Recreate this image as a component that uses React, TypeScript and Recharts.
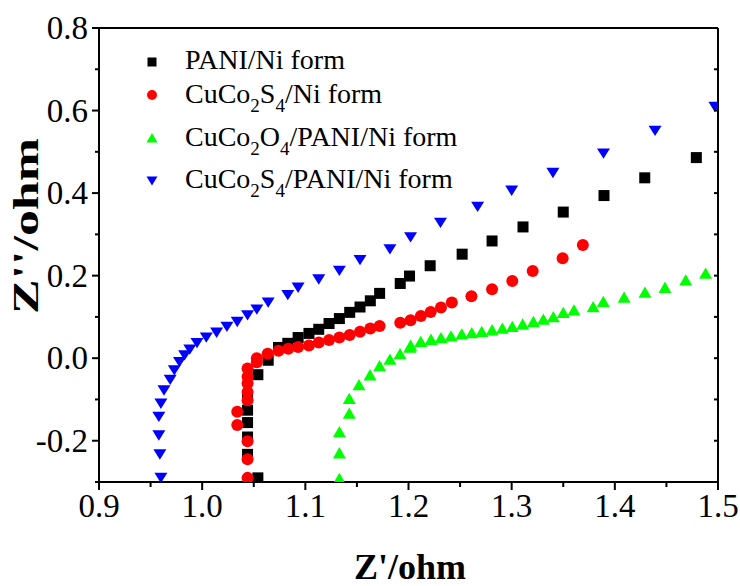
import React from 'react';
import { ScatterChart, Scatter, XAxis, YAxis, Legend } from 'recharts';

const paniNiForm = [
  { x: 1.054, y: -0.29 }, { x: 1.044, y: -0.233 }, { x: 1.044, y: -0.191 }, { x: 1.044, y: -0.156 },
  { x: 1.044, y: -0.126 }, { x: 1.044, y: -0.09 }, { x: 1.054, y: -0.04 }, { x: 1.064, y: -0.005 },
  { x: 1.074, y: 0.026 }, { x: 1.083, y: 0.036 }, { x: 1.093, y: 0.05 }, { x: 1.1035, y: 0.06 },
  { x: 1.113, y: 0.07 }, { x: 1.123, y: 0.084 }, { x: 1.133, y: 0.096 }, { x: 1.143, y: 0.111 },
  { x: 1.153, y: 0.124 }, { x: 1.163, y: 0.139 }, { x: 1.172, y: 0.157 }, { x: 1.192, y: 0.181 },
  { x: 1.201, y: 0.199 }, { x: 1.221, y: 0.224 }, { x: 1.252, y: 0.252 }, { x: 1.281, y: 0.284 },
  { x: 1.311, y: 0.318 }, { x: 1.35, y: 0.354 }, { x: 1.3895, y: 0.394 }, { x: 1.429, y: 0.437 },
  { x: 1.479, y: 0.486 },
];

const cuCo2S4NiForm = [
  { x: 1.044, y: -0.29 }, { x: 1.044, y: -0.245 }, { x: 1.044, y: -0.201 }, { x: 1.034, y: -0.162 },
  { x: 1.034, y: -0.13 }, { x: 1.044, y: -0.102 }, { x: 1.044, y: -0.082 }, { x: 1.044, y: -0.061 },
  { x: 1.044, y: -0.045 }, { x: 1.044, y: -0.025 }, { x: 1.053, y: -0.01 }, { x: 1.053, y: 0.0 },
  { x: 1.0635, y: 0.011 }, { x: 1.074, y: 0.018 }, { x: 1.0835, y: 0.023 }, { x: 1.093, y: 0.027 },
  { x: 1.1035, y: 0.031 }, { x: 1.113, y: 0.038 }, { x: 1.123, y: 0.044 }, { x: 1.133, y: 0.05 },
  { x: 1.143, y: 0.056 }, { x: 1.153, y: 0.064 }, { x: 1.163, y: 0.072 }, { x: 1.172, y: 0.078 },
  { x: 1.192, y: 0.086 }, { x: 1.202, y: 0.092 }, { x: 1.212, y: 0.102 }, { x: 1.2215, y: 0.112 },
  { x: 1.2315, y: 0.123 }, { x: 1.242, y: 0.135 }, { x: 1.261, y: 0.15 }, { x: 1.281, y: 0.167 },
  { x: 1.3006, y: 0.187 }, { x: 1.3204, y: 0.211 }, { x: 1.3494, y: 0.242 }, { x: 1.369, y: 0.274 },
];

const cuCo2O4PaniNiForm = [
  { x: 1.133, y: -0.292 }, { x: 1.133, y: -0.23 }, { x: 1.133, y: -0.179 }, { x: 1.1426, y: -0.134 },
  { x: 1.1426, y: -0.098 }, { x: 1.152, y: -0.065 }, { x: 1.1627, y: -0.041 }, { x: 1.172, y: -0.019 },
  { x: 1.182, y: -0.003 }, { x: 1.1918, y: 0.01 }, { x: 1.2014, y: 0.026 }, { x: 1.2021, y: 0.031 },
  { x: 1.2118, y: 0.04 }, { x: 1.2218, y: 0.045 }, { x: 1.2315, y: 0.049 }, { x: 1.2412, y: 0.053 },
  { x: 1.2516, y: 0.058 }, { x: 1.2613, y: 0.061 }, { x: 1.271, y: 0.064 }, { x: 1.281, y: 0.068 },
  { x: 1.291, y: 0.072 }, { x: 1.3006, y: 0.076 }, { x: 1.3107, y: 0.082 }, { x: 1.321, y: 0.088 },
  { x: 1.3307, y: 0.094 }, { x: 1.3404, y: 0.1 }, { x: 1.35, y: 0.11 }, { x: 1.3604, y: 0.116 },
  { x: 1.379, y: 0.124 }, { x: 1.3888, y: 0.137 }, { x: 1.409, y: 0.147 }, { x: 1.4292, y: 0.159 },
  { x: 1.4486, y: 0.171 }, { x: 1.4687, y: 0.189 }, { x: 1.488, y: 0.205 },
];

const cuCo2S4PaniNiForm = [
  { x: 0.96, y: -0.29 }, { x: 0.959, y: -0.233 }, { x: 0.958, y: -0.187 }, { x: 0.958, y: -0.142 },
  { x: 0.96, y: -0.11 }, { x: 0.963, y: -0.078 }, { x: 0.969, y: -0.052 }, { x: 0.973, y: -0.029 },
  { x: 0.978, y: -0.009 }, { x: 0.983, y: 0.007 }, { x: 0.988, y: 0.021 }, { x: 0.995, y: 0.037 },
  { x: 1.004, y: 0.05 }, { x: 1.014, y: 0.062 }, { x: 1.024, y: 0.076 }, { x: 1.034, y: 0.088 },
  { x: 1.044, y: 0.104 }, { x: 1.053, y: 0.118 }, { x: 1.064, y: 0.135 }, { x: 1.083, y: 0.153 },
  { x: 1.093, y: 0.171 }, { x: 1.113, y: 0.191 }, { x: 1.133, y: 0.212 }, { x: 1.153, y: 0.238 },
  { x: 1.182, y: 0.264 }, { x: 1.202, y: 0.293 }, { x: 1.231, y: 0.328 }, { x: 1.267, y: 0.367 },
  { x: 1.3, y: 0.406 }, { x: 1.34, y: 0.449 }, { x: 1.389, y: 0.496 }, { x: 1.439, y: 0.551 },
  { x: 1.497, y: 0.609 },
];

const xTicks = [0.9, 0.95, 1.0, 1.05, 1.1, 1.15, 1.2, 1.25, 1.3, 1.35, 1.4, 1.45, 1.5];
const yTicks = [-0.3, -0.2, -0.1, 0.0, 0.1, 0.2, 0.3, 0.4, 0.5, 0.6, 0.7, 0.8];

const seriesNames = ['PANI/Ni form', 'CuCo2S4/Ni form', 'CuCo2O4/PANI/Ni form', 'CuCo2S4/PANI/Ni form'];

const FONT = '"Liberation Serif", "Times New Roman", serif';

const Square = (p: any) => <rect x={p.cx - 5.5} y={p.cy - 5.5} width={11} height={11} fill="#000000" />;
const Dot = (p: any) => <circle cx={p.cx} cy={p.cy} r={6} fill="#ff0000" />;
const TriUp = (p: any) => (
  <polygon points={`${p.cx},${p.cy - 6} ${p.cx - 6.5},${p.cy + 5.3} ${p.cx + 6.5},${p.cy + 5.3}`} fill="#00ff00" />
);
const TriDown = (p: any) => (
  <polygon points={`${p.cx - 6.5},${p.cy - 5} ${p.cx + 6.5},${p.cy - 5} ${p.cx},${p.cy + 5.3}`} fill="#0000ff" />
);

const isMajorX = (v: number) => Math.round(v * 100) % 10 === 0;
const isMajorY = (v: number) => Math.round(v * 10) % 2 === 0;

const BottomTick = (props: any) => {
  const { x, y, payload } = props;
  const major = isMajorX(payload.value);
  return (
    <g>
      <line x1={x} y1={y} x2={x} y2={y + (major ? 8 : 5)} stroke="#000" strokeWidth={2} />
      {major && (
        <text x={x} y={y + 35} textAnchor="middle" fontFamily={FONT} fontSize={33} fill="#000">
          {payload.value.toFixed(1)}
        </text>
      )}
    </g>
  );
};

const LeftTick = (props: any) => {
  const { x, y, payload } = props;
  const major = isMajorY(payload.value);
  return (
    <g>
      <line x1={x - (major ? 7 : 4)} y1={y} x2={x} y2={y} stroke="#000" strokeWidth={2} />
      {major && (
        <text x={x - 11} y={y + 11} textAnchor="end" fontFamily={FONT} fontSize={33} fill="#000">
          {payload.value.toFixed(1)}
        </text>
      )}
    </g>
  );
};

const TopTick = (props: any) => {
  const { x, y } = props;
  return <line x1={x} y1={y} x2={x} y2={y + 4} stroke="#000" strokeWidth={2} />;
};

const RightTick = (props: any) => {
  const { x, y } = props;
  return <line x1={x} y1={y} x2={x - 4} y2={y} stroke="#000" strokeWidth={2} />;
};

const XTitle = () => (
  <text x={410} y={579} textAnchor="middle" fontFamily={FONT} fontWeight="bold" fontSize={36} fill="#000">
    Z'/ohm
  </text>
);

const YTitle = () => (
  <text
    x={0}
    y={0}
    transform="translate(38,226) rotate(-90)"
    textAnchor="middle"
    fontFamily={FONT}
    fontWeight="bold"
    fontSize={36}
    fill="#000"
    textLength={176}
    lengthAdjust="spacingAndGlyphs"
  >
    Z''/ohm
  </text>
);

const Sub = ({ children }: any) => (
  <tspan dy={9} fontSize={19}>
    {children}
  </tspan>
);
const Up = ({ children }: any) => <tspan dy={-9}>{children}</tspan>;

const LegendContent = () => {
  const mx = 152;
  const tx = 185;
  return (
    <svg width={740} height={220} style={{ position: 'absolute', left: 0, top: 0, overflow: 'visible' }}>
      <g fontFamily={FONT} fontSize={28} fill="#000">
        <rect x={mx - 4.5} y={62 - 4.5} width={9} height={9} fill="#000" />
        <text x={tx} y={69}>{seriesNames[0]}</text>

        <circle cx={mx} cy={95} r={5} fill="#ff0000" />
        <text x={tx} y={103}>
          CuCo<Sub>2</Sub>
          <Up>S</Up>
          <Sub>4</Sub>
          <Up>/Ni form</Up>
        </text>

        <polygon points={`${mx},${138 - 5} ${mx - 5.5},${138 + 4.5} ${mx + 5.5},${138 + 4.5}`} fill="#00ff00" />
        <text x={tx} y={146}>
          CuCo<Sub>2</Sub>
          <Up>O</Up>
          <Sub>4</Sub>
          <Up>/PANI/Ni form</Up>
        </text>

        <polygon points={`${mx - 5.5},${181 - 4.5} ${mx + 5.5},${181 - 4.5} ${mx},${181 + 4.5}`} fill="#0000ff" />
        <text x={tx} y={188}>
          CuCo<Sub>2</Sub>
          <Up>S</Up>
          <Sub>4</Sub>
          <Up>/PANI/Ni form</Up>
        </text>
      </g>
    </svg>
  );
};

export default function App() {
  return (
    <div style={{ position: 'absolute', left: 0, top: 0, width: 740, height: 586, background: '#fff' }}>
      <ScatterChart width={740} height={586} margin={{ top: 27, right: 21, left: 39, bottom: 64 }}>
        <XAxis
          xAxisId="b"
          dataKey="x"
          type="number"
          orientation="bottom"
          domain={[0.9, 1.5]}
          ticks={xTicks}
          interval={0}
          allowDataOverflow
          height={40}
          tickSize={0}
          tickMargin={0}
          tick={<BottomTick />}
          axisLine={{ stroke: '#000', strokeWidth: 2 }}
          label={<XTitle />}
        />
        <XAxis
          xAxisId="t"
          type="number"
          orientation="top"
          domain={[0.9, 1.5]}
          ticks={xTicks}
          interval={0}
          allowDataOverflow
          height={1}
          tickSize={0}
          tickMargin={0}
          tick={<TopTick />}
          axisLine={{ stroke: '#000', strokeWidth: 2 }}
        />
        <YAxis
          yAxisId="l"
          dataKey="y"
          type="number"
          orientation="left"
          domain={[-0.3, 0.8]}
          ticks={yTicks}
          interval={0}
          allowDataOverflow
          width={60}
          tickSize={0}
          tickMargin={0}
          tick={<LeftTick />}
          axisLine={{ stroke: '#000', strokeWidth: 2 }}
          label={<YTitle />}
        />
        <YAxis
          yAxisId="r"
          type="number"
          orientation="right"
          domain={[-0.3, 0.8]}
          ticks={yTicks}
          interval={0}
          allowDataOverflow
          width={1}
          tickSize={0}
          tickMargin={0}
          tick={<RightTick />}
          axisLine={{ stroke: '#000', strokeWidth: 2 }}
        />
        <Legend
          layout="horizontal"
          verticalAlign="middle"
          align="center"
          content={<LegendContent />}
          wrapperStyle={{ position: 'absolute', left: 0, top: 0, width: 740, height: 220, pointerEvents: 'none' }}
        />
        <Scatter name={seriesNames[0]} data={paniNiForm} xAxisId="b" yAxisId="l" shape={Square} isAnimationActive={false} />
        <Scatter name={seriesNames[1]} data={cuCo2S4NiForm} xAxisId="b" yAxisId="l" shape={Dot} isAnimationActive={false} />
        <Scatter name={seriesNames[2]} data={cuCo2O4PaniNiForm} xAxisId="b" yAxisId="l" shape={TriUp} isAnimationActive={false} />
        <Scatter name={seriesNames[3]} data={cuCo2S4PaniNiForm} xAxisId="b" yAxisId="l" shape={TriDown} isAnimationActive={false} />
      </ScatterChart>
    </div>
  );
}
